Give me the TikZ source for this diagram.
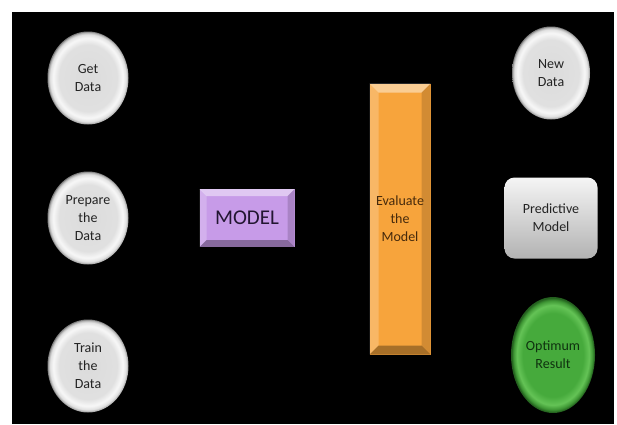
\documentclass[tikz,border=0pt]{standalone}
\usepackage{fontspec}
\setmainfont{Carlito}
\usetikzlibrary{shapes.geometric}
\definecolor{modelc}{RGB}{199,155,232}
\definecolor{evalc}{RGB}{247,164,60}
\definecolor{greytext}{RGB}{35,35,35}
\definecolor{gA}{RGB}{70,170,60}
\definecolor{gB}{RGB}{100,195,86}
\definecolor{gC}{RGB}{62,150,52}
\definecolor{gD}{RGB}{35,95,30}
\pgfdeclareradialshading{greyblob}{\pgfpoint{0bp}{0bp}}{color(0bp)=(black!14); color(18bp)=(black!12); color(21.5bp)=(black!3); color(23.5bp)=(black!12); color(24.7bp)=(black!35); color(25bp)=(black!50); color(50bp)=(black!50)}
\pgfdeclareradialshading{greenblob}{\pgfpoint{0bp}{0bp}}{color(0bp)=(gA); color(18bp)=(gA); color(21.5bp)=(gB); color(23.5bp)=(gC); color(24.7bp)=(gD); color(25bp)=(gD); color(50bp)=(gD)}
\tikzset{
  txt/.style={align=center, font=\fontsize{14}{18}\selectfont, text=greytext},
  blob/.style={ellipse, shading=greyblob, txt, minimum width=81pt, minimum height=93pt, inner sep=0pt},
  bevel/.style={path picture={
    \path (path picture bounding box.north west) coordinate (bnw)
          (path picture bounding box.north east) coordinate (bne)
          (path picture bounding box.south west) coordinate (bsw)
          (path picture bounding box.south east) coordinate (bse);
    \fill[white,opacity=.45] (bnw) -- (bne) -- ([xshift=-#1,yshift=-#1]bne) -- ([xshift=#1,yshift=-#1]bnw) -- cycle;
    \fill[white,opacity=.22] (bnw) -- ([xshift=#1,yshift=-#1]bnw) -- ([xshift=#1,yshift=#1]bsw) -- (bsw) -- cycle;
    \fill[black,opacity=.15] (bne) -- (bse) -- ([xshift=-#1,yshift=#1]bse) -- ([xshift=-#1,yshift=-#1]bne) -- cycle;
    \fill[black,opacity=.32] (bsw) -- (bse) -- ([xshift=-#1,yshift=#1]bse) -- ([xshift=#1,yshift=#1]bsw) -- cycle;
  }},
}
\begin{document}
\begin{tikzpicture}[x=1pt,y=-1pt]
\useasboundingbox (0,0) rectangle (617,424);
\fill[white] (0,0) rectangle (617,424);
\fill[black] (12,12) rectangle (614,424);
% left column
\node[blob] (get) at (88,78) {Get\\Data};
\node[blob] (prep) at (88,218) {Prepare\\the\\Data};
\node[blob] (train) at (88,366) {Train\\the\\Data};
% model
\node[rectangle, fill=modelc, bevel=7pt, minimum width=95pt, minimum height=58pt, inner sep=0pt,
      font=\fontsize{21}{25}\selectfont, text={rgb,255:red,35;green,22;blue,50}] (model) at (247,218) {MODEL};
% evaluate
\node[rectangle, fill=evalc, bevel=9pt, minimum width=61pt, minimum height=271pt, inner sep=0pt,
      txt, text={rgb,255:red,70;green,42;blue,12}] (eval) at (400,219) {Evaluate\\the\\Model};
% right column
\node[blob, minimum width=78pt] (new) at (551,73) {New\\Data};
\node[rectangle, rounded corners=10pt, shade, top color=black!4, middle color=black!13, bottom color=black!30,
      minimum width=93pt, minimum height=81pt, inner sep=0pt, txt] (pred) at (551,218) {Predictive\\Model};
\node[blob, shading=greenblob, minimum width=84pt, minimum height=116pt, text={rgb,255:red,15;green,50;blue,15}] (opt) at (553,355) {Optimum\\Result};
\end{tikzpicture}
\end{document}
